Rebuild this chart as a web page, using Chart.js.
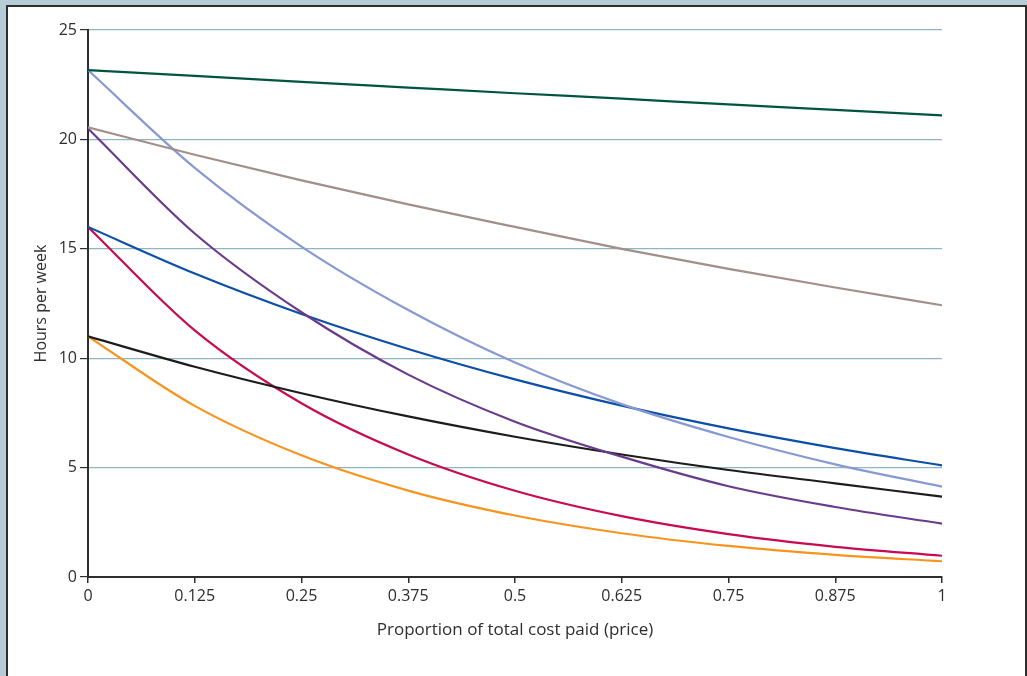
<!DOCTYPE html>
<html>
<head>
<meta charset="utf-8">
<script src="https://cdn.jsdelivr.net/npm/chart.js@4"></script>
<style>
    html, body { margin: 0; padding: 0; }
    body { width: 1027px; height: 676px; background: #b6cdd8; position: relative; overflow: hidden; }
    .panel {
        position: absolute; left: 6px; top: 5px; width: 1017px; height: 700px;
        background: #fff; border: 2px solid #2e2e2e; border-bottom: none;
    }
    #chart { position: absolute; left: 0; top: 0; }
</style>
</head>
<body>
<div class="panel"></div>
<canvas id="chart" width="1027" height="676"></canvas>
<script>
// x positions (proportion of total cost paid)
const prices = [0, 0.125, 0.25, 0.375, 0.5, 0.625, 0.75, 0.875, 1];
const yTicks = [0, 5, 10, 15, 20, 25];

// hours per week
const greenHours  = [23.17, 22.9, 22.63, 22.37, 22.11, 21.86, 21.6, 21.35, 21.1];
const greyHours   = [20.55, 19.3, 18.13, 17.03, 16.0, 15.0, 14.08, 13.23, 12.42];
const lilacHours  = [23.17, 18.7, 15.1, 12.2, 9.8, 7.9, 6.4, 5.15, 4.13];
const purpleHours = [20.5, 15.7, 12.1, 9.25, 7.1, 5.5, 4.15, 3.2, 2.44];
const blueHours   = [16.0, 13.87, 12.02, 10.42, 9.03, 7.83, 6.79, 5.89, 5.1];
const blackHours  = [11.0, 9.61, 8.4, 7.34, 6.41, 5.6, 4.89, 4.28, 3.67];
const redHours    = [16.0, 11.27, 7.94, 5.6, 3.94, 2.78, 1.96, 1.38, 0.97];
const orangeHours = [11.0, 7.82, 5.56, 3.95, 2.81, 2.0, 1.42, 1.01, 0.72];

const series = [
    { data: greenHours,  color: '#005440' },
    { data: greyHours,   color: '#a28f8a' },
    { data: lilacHours,  color: '#8799d2' },
    { data: purpleHours, color: '#6a3b8c' },
    { data: blueHours,   color: '#0c4fa8' },
    { data: blackHours,  color: '#1c1c1c' },
    { data: redHours,    color: '#c80a50' },
    { data: orangeHours, color: '#f7941e' }
];

function toPoints(values) {
    return values.map((v, i) => ({ x: prices[i], y: v }));
}

const font = { family: '"Open Sans", sans-serif', size: 16 };

new Chart(document.getElementById('chart'), {
    type: 'line',
    data: {
        datasets: series.map(s => ({
            data: toPoints(s.data),
            borderColor: s.color,
            borderWidth: 2.2,
            pointRadius: 0,
            fill: false,
            cubicInterpolationMode: 'monotone'
        }))
    },
    options: {
        responsive: false,
        animation: false,
        devicePixelRatio: 1,
        layout: { padding: { left: 0, right: 85, top: 30, bottom: 0 } },
        plugins: { legend: { display: false }, tooltip: { enabled: false } },
        scales: {
            x: {
                type: 'linear',
                min: 0,
                max: 1,
                afterBuildTicks: scale => { scale.ticks = prices.map(v => ({ value: v })); },
                afterFit: scale => { scale.height = 99; },
                border: { color: '#2e2e2e', width: 2 },
                grid: { drawOnChartArea: false, tickLength: 6, tickColor: '#2e2e2e', lineWidth: 1.5 },
                ticks: { color: '#2e2e2e', font: font, padding: 4, maxRotation: 0, autoSkip: false,
                         callback: v => String(v) },
                title: { display: true, text: 'Proportion of total cost paid (price)', color: '#2e2e2e',
                         font: { family: '"Open Sans", sans-serif', size: 17 },
                         padding: { top: 0, bottom: 36 } }
            },
            y: {
                min: 0,
                max: 25,
                afterBuildTicks: scale => { scale.ticks = yTicks.map(v => ({ value: v })); },
                afterFit: scale => { scale.width = 88; },
                border: { color: '#2e2e2e', width: 2 },
                grid: { color: '#8fb4c2', lineWidth: 1.2, tickLength: 8, tickColor: '#2e2e2e' },
                ticks: { color: '#2e2e2e', font: font, padding: 3, autoSkip: false },
                title: { display: true, text: 'Hours per week', color: '#2e2e2e',
                         font: { family: '"Open Sans", sans-serif', size: 16 },
                         padding: { top: 32, bottom: 0 } }
            }
        }
    }
});
</script>
</body>
</html>
